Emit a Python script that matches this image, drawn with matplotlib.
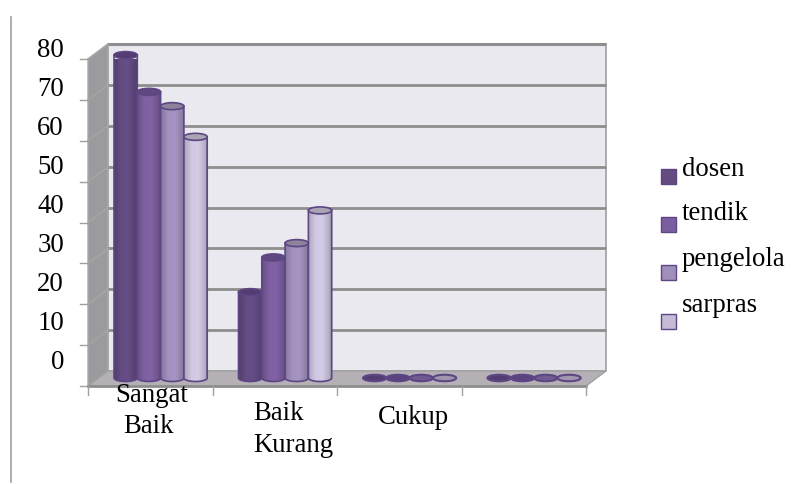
"""Recreates the 3D style purple cylinder chart with plain matplotlib."""

import numpy as np
import matplotlib
matplotlib.use('Agg')
import matplotlib.pyplot as plt
from matplotlib.patches import Ellipse, PathPatch, Polygon, Rectangle
from matplotlib.path import Path

plt.rcParams['font.family'] = ['Liberation Serif', 'DejaVu Serif']

# Data
series_names = ['dosen', 'tendik', 'pengelola', 'sarpras']
dosen = [79, 21, 0, 0]
tendik = [70, 29.5, 0, 0]
pengelola = [66.5, 33, 0, 0]
sarpras = [59, 41, 0, 0]
y_ticks = [0, 10, 20, 30, 40, 50, 60, 70, 80]

# Styles
BODY_COLORS = ['#644c84', '#7f60a2', '#a392bf', '#d0c8e2']
TOP_COLORS = ['#523c72', '#5f4882', '#8c8299', '#aaa5b4']
FLAT_COLORS = ['#523c72', '#5a4480', '#6f5a92', '#a096ae']
LEGEND_COLORS = ['#644c80', '#7b5e9f', '#a08ebb', '#c5bbd5']
EDGE = '#5d4683'
GRID = '#8e8e8e'
FONT_SIZE = 19.3

W, H = 801, 485
LEFT, RIGHT, BOTTOM, TOP = 88, 586, 387, 60
UNIT = (BOTTOM - TOP) / 80       # pixels per value unit
CAT = (RIGHT - LEFT) / 4         # pixels per category
DX = 20 / CAT                    # depth offset in data units
DY = 15 / UNIT
BAR_W = 23.3 / CAT
BAR_START = 26 / CAT
BAR_BASE = 8 / UNIT
ELL_H = 7 / UNIT


def draw_walls(ax):
    """Back wall, side wall and floor of the 3D box."""
    ax.add_patch(Polygon([(DX, DY), (4 + DX, DY), (4 + DX, 80 + DY), (DX, 80 + DY)],
                         fc='#ebe9f0', ec='#a0a0a0', lw=1.2, clip_on=False, zorder=1))
    ax.add_patch(Polygon([(0, 0), (DX, DY), (DX, 80 + DY), (0, 80)],
                         fc='#9b9b9f', ec='#a8a8a8', lw=1, clip_on=False, zorder=1))
    ax.add_patch(Polygon([(0, 0), (DX, DY), (4 + DX, DY), (4, 0)],
                         fc='#b4b0b6', ec='#a0a0a0', lw=1, clip_on=False, zorder=1))
    for v in y_ticks[1:]:
        lw = 2 if v < 80 else 2.2
        ax.plot([DX, 4 + DX], [v + DY, v + DY], color=GRID, lw=lw,
                solid_capstyle='butt', clip_on=False, zorder=2)
        ax.plot([0, DX], [v, v + DY], color='#a6a6a6', lw=1, clip_on=False, zorder=2)
    ax.plot([0, 4], [0, 0], color='#8e8e8e', lw=2, clip_on=False, zorder=2)


def draw_cylinder(ax, x0, value, body, top, flat, zorder):
    """One cylinder, shaded across its width."""
    xc = x0 + BAR_W / 2
    base = BAR_BASE
    if value > 0:
        y_top = base + value
        t = np.linspace(0, np.pi, 30)
        xs = xc - np.cos(t) * BAR_W / 2
        ys = base - np.sin(t) * ELL_H / 2
        verts = list(zip(xs, ys)) + [(x0 + BAR_W, y_top), (x0, y_top), (xs[0], ys[0])]
        outline = PathPatch(Path(verts, closed=True), fc='none', ec=EDGE, lw=1.2,
                            clip_on=False, zorder=zorder + 0.2)
        ax.add_patch(outline)

        rgb = np.array(matplotlib.colors.to_rgb(body))
        shade = np.interp(np.linspace(0, 1, 40), [0, 0.3, 0.6, 0.9, 1],
                          [0.82, 1.0, 1.02, 0.86, 0.72])
        grad = np.clip(rgb[None, None, :] * shade[None, :, None], 0, 1)
        im = ax.imshow(grad, extent=(x0, x0 + BAR_W, base - ELL_H / 2, y_top),
                       aspect='auto', interpolation='bilinear', zorder=zorder)
        im.set_clip_path(outline)
        ell_h, fill, lw = ELL_H, top, 1.2
    else:
        y_top = base
        ell_h, fill, lw = 6.5 / UNIT, flat, 1.5

    ax.add_patch(Ellipse((xc, y_top), BAR_W, ell_h, fc=fill, ec=EDGE, lw=lw,
                         clip_on=False, zorder=zorder + 0.3))


def main():
    fig = plt.figure(figsize=(W / 100, H / 100), dpi=100)
    ax = fig.add_axes([LEFT / W, 1 - BOTTOM / H, (RIGHT - LEFT) / W, (BOTTOM - TOP) / H])
    ax.axis('off')

    draw_walls(ax)

    all_series = [dosen, tendik, pengelola, sarpras]
    for i in range(4):
        for j, values in enumerate(all_series):
            x0 = i + BAR_START + j * BAR_W
            draw_cylinder(ax, x0, values[i], BODY_COLORS[j], TOP_COLORS[j], FLAT_COLORS[j], 3 + j)

    ax.set_xlim(0, 4)
    ax.set_ylim(0, 80)

    # Ticks, drawn outside the box
    for v in y_ticks:
        ax.plot([-8 / CAT, 0], [v, v], color='#a0a0a0', lw=1, clip_on=False, zorder=2)
    for i in range(5):
        ax.plot([i, i], [0, -9 / UNIT], color='#a0a0a0', lw=1, clip_on=False, zorder=2)

    # Tick labels sit away from their ticks in the original, so they are placed by hand
    for k, v in enumerate(y_ticks):
        fig.text(64 / W, 1 - (363 - k * 39.1) / H, str(v), fontsize=FONT_SIZE,
                 ha='right', va='center', color='black')
    fig.text(152 / W, 1 - 396 / H, 'Sangat', fontsize=FONT_SIZE, ha='center', va='center')
    fig.text(149 / W, 1 - 427 / H, 'Baik', fontsize=FONT_SIZE, ha='center', va='center')
    fig.text(253 / W, 1 - 414 / H, 'Baik', fontsize=FONT_SIZE, ha='left', va='center')
    fig.text(253 / W, 1 - 446 / H, 'Kurang', fontsize=FONT_SIZE, ha='left', va='center')
    fig.text(378 / W, 1 - 417 / H, 'Cukup', fontsize=FONT_SIZE, ha='left', va='center')

    # Legend
    for name, color, y_box, y_text in zip(series_names, LEGEND_COLORS,
                                          [177, 225, 273, 322], [169, 213, 259, 305]):
        fig.add_artist(Rectangle((661 / W, 1 - (y_box + 7.5) / H), 15 / W, 15 / H, fc=color,
                                 ec=EDGE, lw=1, transform=fig.transFigure))
        fig.text(682 / W, 1 - y_text / H, name, fontsize=FONT_SIZE, ha='left', va='center')

    # Stray frame line at the left edge
    fig.add_artist(plt.Line2D([10.5 / W, 10.5 / W], [1 - 18 / H, 1 - 483 / H],
                              color='#a0a0a0', lw=1.2, transform=fig.transFigure))

    fig.savefig('out.png', dpi=100, facecolor='white')
    plt.close(fig)


if __name__ == '__main__':
    main()
